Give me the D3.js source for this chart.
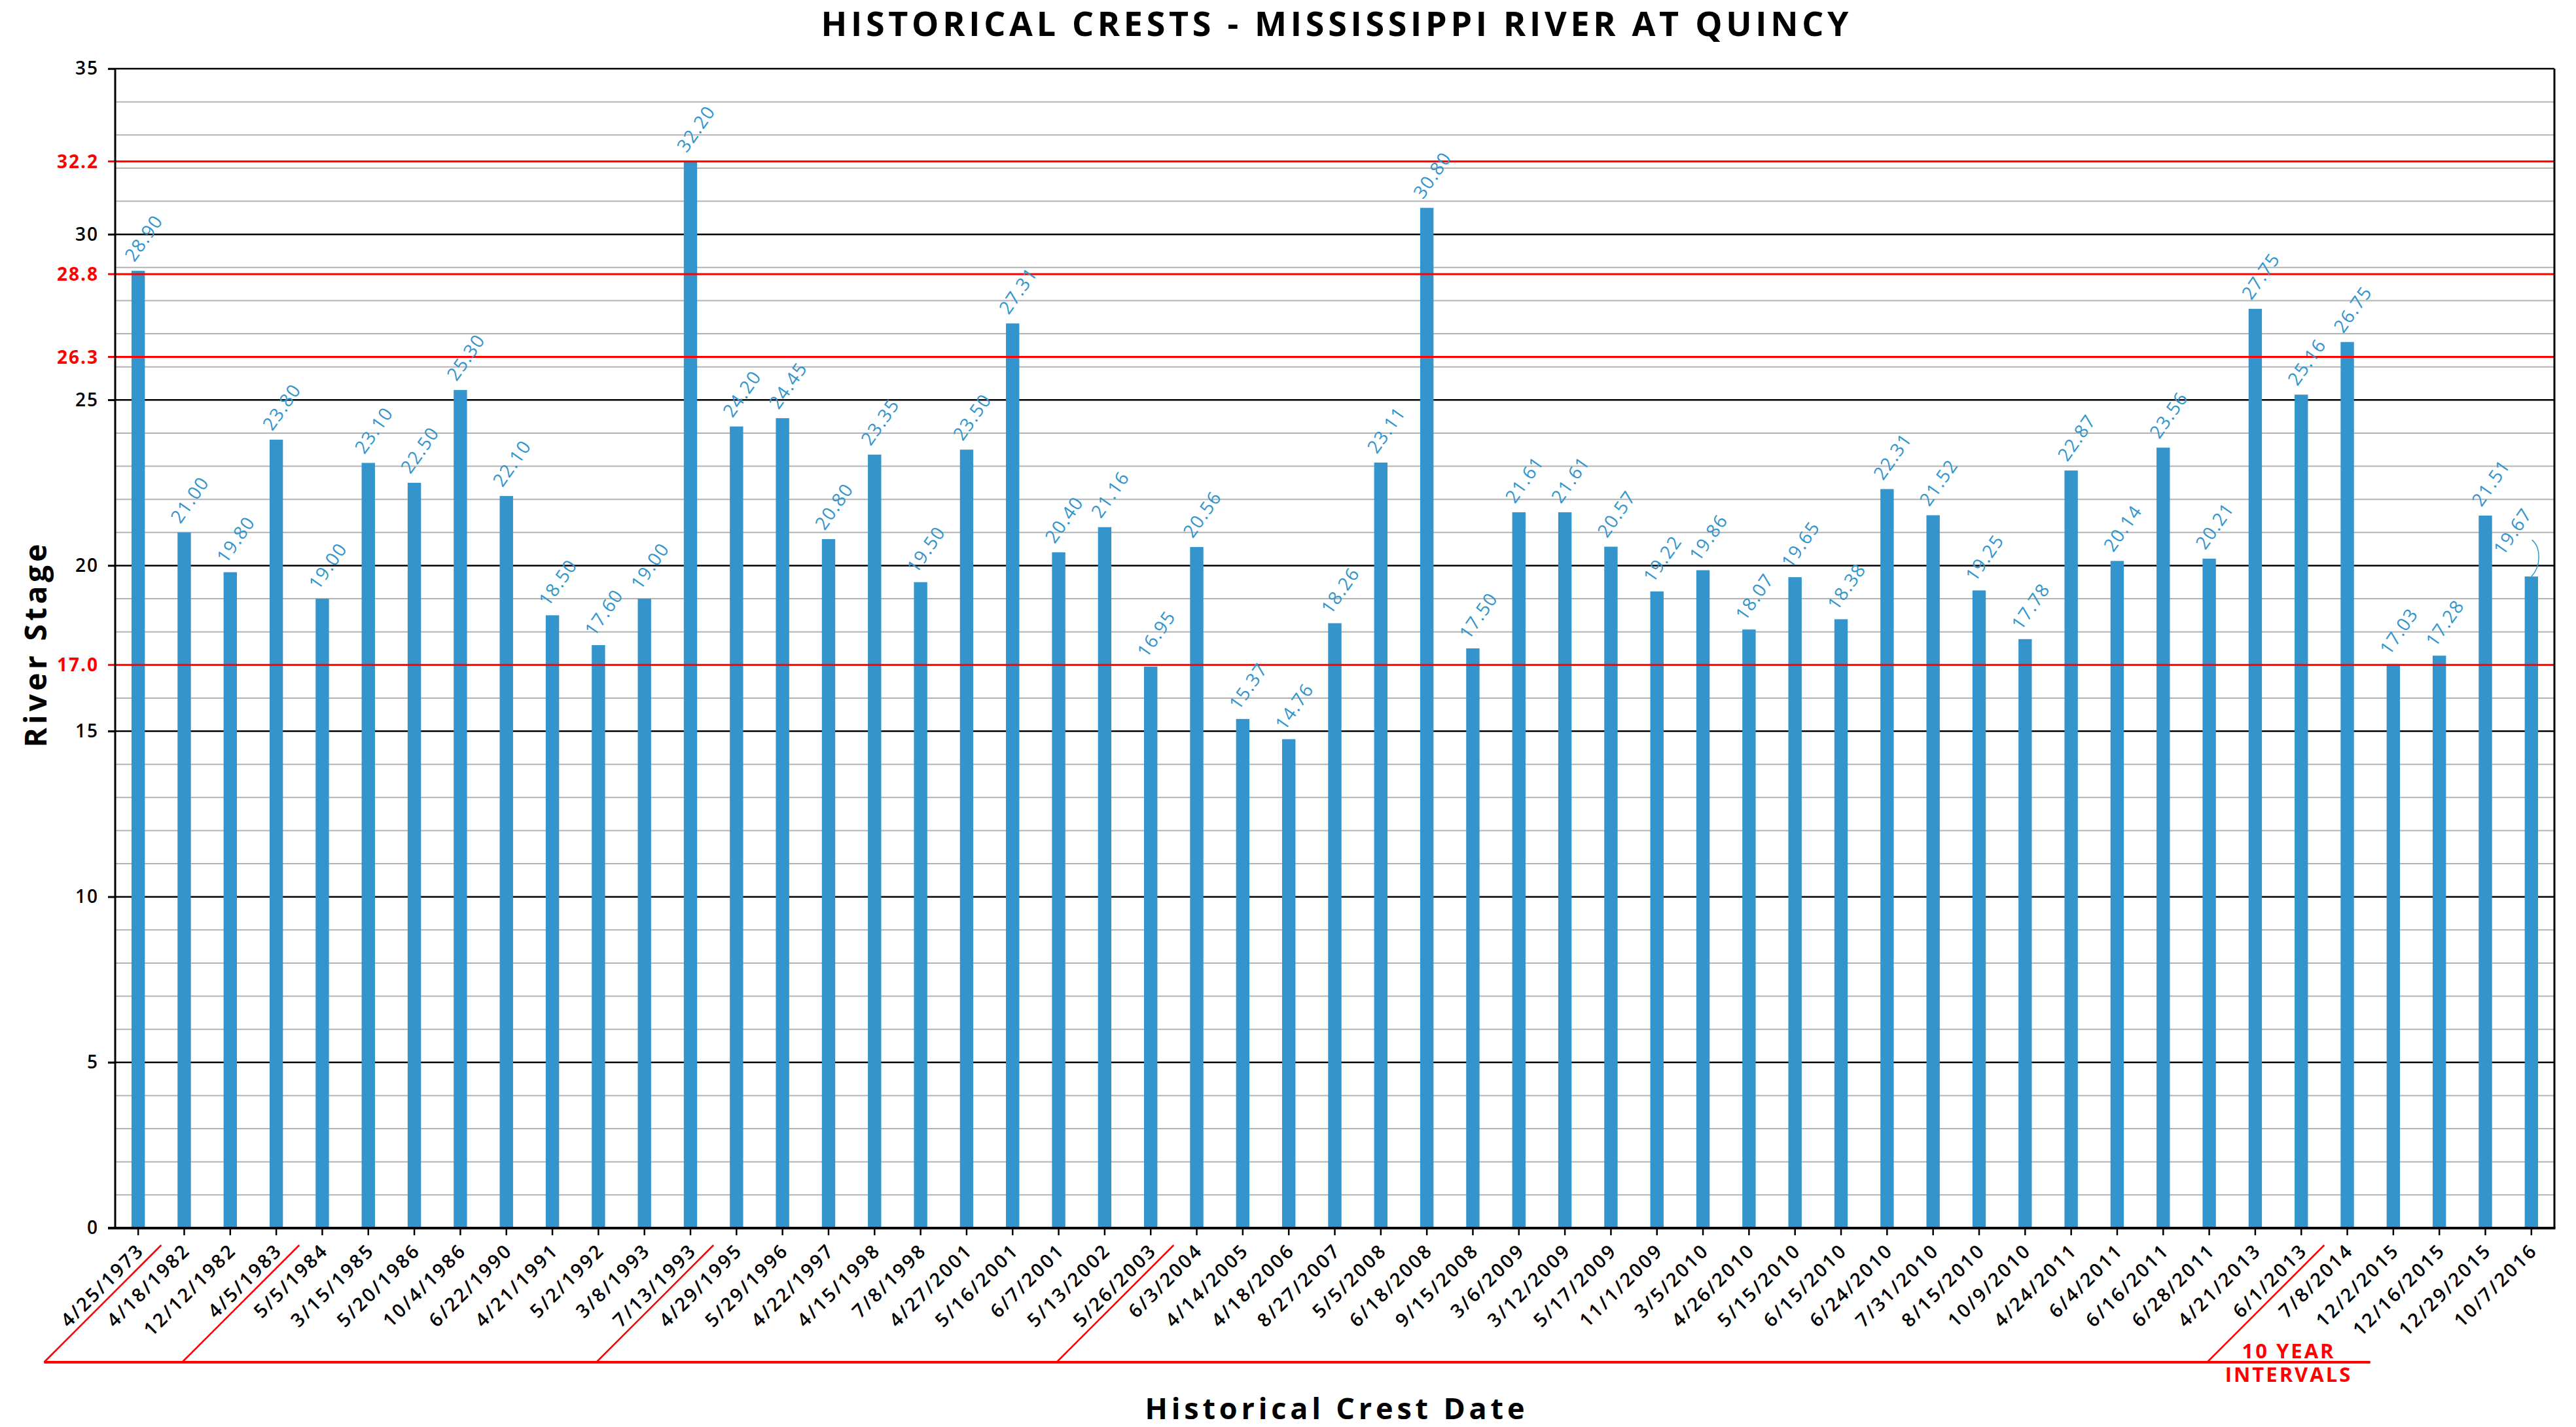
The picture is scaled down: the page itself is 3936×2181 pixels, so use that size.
<!DOCTYPE html>
<html>
<head>
<meta charset="utf-8">
<script src="https://cdn.jsdelivr.net/npm/d3@7"></script>
<style>
  body { margin: 0; background: #fff; }
  text { font-family: "Open Sans", "Noto Sans", sans-serif; }
</style>
</head>
<body>
<div id="chart"></div>
<script>
// Crest dates (x categories) and crest stages (bar values)
var crestDates = ["4/25/1973", "4/18/1982", "12/12/1982", "4/5/1983", "5/5/1984", "3/15/1985",
  "5/20/1986", "10/4/1986", "6/22/1990", "4/21/1991", "5/2/1992", "3/8/1993", "7/13/1993",
  "4/29/1995", "5/29/1996", "4/22/1997", "4/15/1998", "7/8/1998", "4/27/2001", "5/16/2001",
  "6/7/2001", "5/13/2002", "5/26/2003", "6/3/2004", "4/14/2005", "4/18/2006", "8/27/2007",
  "5/5/2008", "6/18/2008", "9/15/2008", "3/6/2009", "3/12/2009", "5/17/2009", "11/1/2009",
  "3/5/2010", "4/26/2010", "5/15/2010", "6/15/2010", "6/24/2010", "7/31/2010", "8/15/2010",
  "10/9/2010", "4/24/2011", "6/4/2011", "6/16/2011", "6/28/2011", "4/21/2013", "6/1/2013",
  "7/8/2014", "12/2/2015", "12/16/2015", "12/29/2015", "10/7/2016"];

var crestValues = [28.90, 21.00, 19.80, 23.80, 19.00, 23.10,
  22.50, 25.30, 22.10, 18.50, 17.60, 19.00, 32.20,
  24.20, 24.45, 20.80, 23.35, 19.50, 23.50, 27.31,
  20.40, 21.16, 16.95, 20.56, 15.37, 14.76, 18.26,
  23.11, 30.80, 17.50, 21.61, 21.61, 20.57, 19.22,
  19.86, 18.07, 19.65, 18.38, 22.31, 21.52, 19.25,
  17.78, 22.87, 20.14, 23.56, 20.21, 27.75, 25.16,
  26.75, 17.03, 17.28, 21.51, 19.67];

// y axis ticks and flood stage lines
var yTicks = [0, 5, 10, 15, 20, 25, 30, 35];
var floodStages = [17.0, 26.3, 28.8, 32.2];

// first crest of each new 10 year interval
var decadeStarts = ["4/18/1982", "5/5/1984", "4/29/1995", "6/3/2004", "7/8/2014"];

// label that was nudged away from its bar (gets a leader line)
var movedLabels = { "10/7/2016": { dx: -37, dy: -19 } };

var svgWidth = 3936;
var svgHeight = 2181;

var margin = { top: 105, right: 33, bottom: 304, left: 176 };
var width = svgWidth - margin.left - margin.right;
var height = svgHeight - margin.top - margin.bottom;

var barColor = "#3395cc";

var svg = d3.select("#chart")
  .append("svg")
  .attr("width", svgWidth)
  .attr("height", svgHeight)
  .style("display", "block");

svg.append("rect")
  .attr("width", svgWidth)
  .attr("height", svgHeight)
  .attr("fill", "#fff");

var chartGroup = svg.append("g")
  .attr("transform", `translate(${margin.left}, ${margin.top})`);

var crests = crestDates.map(function (d, i) {
  return { date: d, value: crestValues[i] };
});

// scales
var xBandScale = d3.scaleBand()
  .domain(crestDates)
  .range([0, width])
  .paddingInner(0.71)
  .paddingOuter(0.355);

var yLinearScale = d3.scaleLinear()
  .domain([0, 35])
  .range([height, 0]);

// minor grid, one line per foot
var minorTicks = d3.range(1, 35).filter(function (v) { return v % 5 !== 0; });
chartGroup.append("g")
  .selectAll("line")
  .data(minorTicks)
  .enter()
  .append("line")
  .attr("x1", 0)
  .attr("x2", width)
  .attr("y1", d => yLinearScale(d))
  .attr("y2", d => yLinearScale(d))
  .attr("stroke", "#b3b3b3")
  .attr("stroke-width", 2);

// major grid
chartGroup.append("g")
  .selectAll("line")
  .data(yTicks.filter(v => v > 0))
  .enter()
  .append("line")
  .attr("x1", -11)
  .attr("x2", width)
  .attr("y1", d => yLinearScale(d))
  .attr("y2", d => yLinearScale(d))
  .attr("stroke", "#000")
  .attr("stroke-width", 2.5);

// y axis labels
var leftAxis = d3.axisLeft(yLinearScale)
  .tickValues(yTicks)
  .tickSize(11)
  .tickPadding(16);

var yAxisG = chartGroup.append("g").call(leftAxis);
yAxisG.select(".domain").remove();
yAxisG.selectAll(".tick line").attr("stroke", "#000").attr("stroke-width", 2.5);
yAxisG.selectAll(".tick text")
  .attr("font-size", 28)
  .attr("font-weight", 600)
  .attr("letter-spacing", "2px")
  .attr("dx", 2)
  .attr("fill", "#000");

// bars
chartGroup.selectAll(".bar")
  .data(crests)
  .enter()
  .append("rect")
  .attr("class", "bar")
  .attr("x", d => xBandScale(d.date))
  .attr("width", xBandScale.bandwidth())
  .attr("y", d => yLinearScale(d.value))
  .attr("height", d => height - yLinearScale(d.value))
  .attr("fill", barColor);

// flood stage lines
chartGroup.append("g")
  .selectAll("line")
  .data(floodStages)
  .enter()
  .append("line")
  .attr("x1", -11)
  .attr("x2", width)
  .attr("y1", d => yLinearScale(d))
  .attr("y2", d => yLinearScale(d))
  .attr("stroke", "#ff0000")
  .attr("stroke-width", 3);

chartGroup.append("g")
  .selectAll("text")
  .data(floodStages)
  .enter()
  .append("text")
  .attr("x", -25)
  .attr("y", d => yLinearScale(d))
  .attr("dy", "0.36em")
  .attr("text-anchor", "end")
  .attr("font-size", 28)
  .attr("font-weight", 700)
  .attr("letter-spacing", "2px")
  .attr("fill", "#ff0000")
  .text(d => d.toFixed(1));

// axis lines and frame
chartGroup.append("line")
  .attr("x1", 0).attr("x2", 0)
  .attr("y1", 0).attr("y2", height)
  .attr("stroke", "#000").attr("stroke-width", 3);

chartGroup.append("line")
  .attr("x1", width).attr("x2", width)
  .attr("y1", 0).attr("y2", height)
  .attr("stroke", "#000").attr("stroke-width", 3);

// x axis
var bottomAxis = d3.axisBottom(xBandScale).tickSize(11);

var xAxisG = chartGroup.append("g")
  .attr("transform", `translate(0, ${height})`)
  .call(bottomAxis);

xAxisG.select(".domain").remove();
xAxisG.selectAll(".tick line").attr("stroke", "#000").attr("stroke-width", 2.5);
xAxisG.selectAll(".tick text")
  .attr("x", 0)
  .attr("y", 0)
  .attr("dy", 0)
  .attr("transform", "translate(11, 36) rotate(-45)")
  .attr("text-anchor", "end")
  .attr("font-size", 29)
  .attr("font-weight", 600)
  .attr("letter-spacing", "3px")
  .attr("fill", "#000");

chartGroup.append("line")
  .attr("x1", -11).attr("x2", width + 1.5)
  .attr("y1", height).attr("y2", height)
  .attr("stroke", "#000").attr("stroke-width", 4);

// value labels
var labelGroup = chartGroup.append("g");

function labelPos(d) {
  var off = movedLabels[d.date] || { dx: 0, dy: 0 };
  var cx = xBandScale(d.date) + xBandScale.bandwidth() / 2;
  return [cx - 6 + off.dx, yLinearScale(d.value) - 12 + off.dy];
}

labelGroup.selectAll("text")
  .data(crests)
  .enter()
  .append("text")
  .attr("transform", function (d) {
    var p = labelPos(d);
    return `translate(${p[0]}, ${p[1]}) rotate(-55)`;
  })
  .attr("font-size", 28)
  .attr("font-weight", 500)
  .attr("letter-spacing", "1.5px")
  .attr("fill", barColor)
  .text(d => d.value.toFixed(2));

// leader lines for moved labels
labelGroup.selectAll("path")
  .data(crests.filter(d => movedLabels[d.date]))
  .enter()
  .append("path")
  .attr("d", function (d) {
    var cx = xBandScale(d.date) + xBandScale.bandwidth() / 2;
    var top = yLinearScale(d.value);
    return `M${cx + 1},${top - 56} C${cx + 15},${top - 44} ${cx + 15},${top - 16} ${cx},${top}`;
  })
  .attr("fill", "none")
  .attr("stroke", barColor)
  .attr("stroke-width", 1.5);

// 10 year interval markers
var diagDrop = 179;
var markTop = height + 26;
var markBottom = markTop + diagDrop;

function boundaryX(date) {
  return xBandScale(date) + xBandScale.bandwidth() / 2 - xBandScale.step() / 2;
}

var intervalGroup = chartGroup.append("g");

intervalGroup.selectAll("line")
  .data(decadeStarts)
  .enter()
  .append("line")
  .attr("x1", d => boundaryX(d))
  .attr("y1", markTop)
  .attr("x2", d => boundaryX(d) - diagDrop)
  .attr("y2", markBottom)
  .attr("stroke", "#ff0000")
  .attr("stroke-width", 2.5);

var lastStart = boundaryX(decadeStarts[decadeStarts.length - 1]);
var lineEnd = lastStart + xBandScale.step();

intervalGroup.append("line")
  .attr("x1", boundaryX(decadeStarts[0]) - diagDrop)
  .attr("x2", lineEnd)
  .attr("y1", markBottom)
  .attr("y2", markBottom)
  .attr("stroke", "#ff0000")
  .attr("stroke-width", 4);

var noteX = (lastStart - diagDrop + lineEnd) / 2;

intervalGroup.append("text")
  .attr("x", noteX)
  .attr("y", markBottom - 6)
  .attr("text-anchor", "middle")
  .attr("font-size", 31)
  .attr("font-weight", 700)
  .attr("letter-spacing", "3px")
  .attr("fill", "#ff0000")
  .text("10 YEAR");

intervalGroup.append("text")
  .attr("x", noteX)
  .attr("y", markBottom + 30)
  .attr("text-anchor", "middle")
  .attr("font-size", 31)
  .attr("font-weight", 700)
  .attr("letter-spacing", "3px")
  .attr("fill", "#ff0000")
  .text("INTERVALS");

// titles
svg.append("text")
  .attr("x", margin.left + width / 2)
  .attr("y", 55)
  .attr("text-anchor", "middle")
  .attr("font-size", 52)
  .attr("font-weight", 700)
  .attr("textLength", 1570)
  .attr("lengthAdjust", "spacing")
  .attr("fill", "#000")
  .text("HISTORICAL CRESTS - MISSISSIPPI RIVER AT QUINCY");

svg.append("text")
  .attr("x", margin.left + width / 2)
  .attr("y", 2169)
  .attr("text-anchor", "middle")
  .attr("font-size", 45)
  .attr("font-weight", 700)
  .attr("textLength", 580)
  .attr("lengthAdjust", "spacing")
  .attr("fill", "#000")
  .text("Historical Crest Date");

svg.append("text")
  .attr("transform", `translate(71, ${margin.top + height / 2 - 4}) rotate(-90)`)
  .attr("text-anchor", "middle")
  .attr("font-size", 46)
  .attr("font-weight", 700)
  .attr("textLength", 311)
  .attr("lengthAdjust", "spacing")
  .attr("fill", "#000")
  .text("River Stage");
</script>
</body>
</html>
